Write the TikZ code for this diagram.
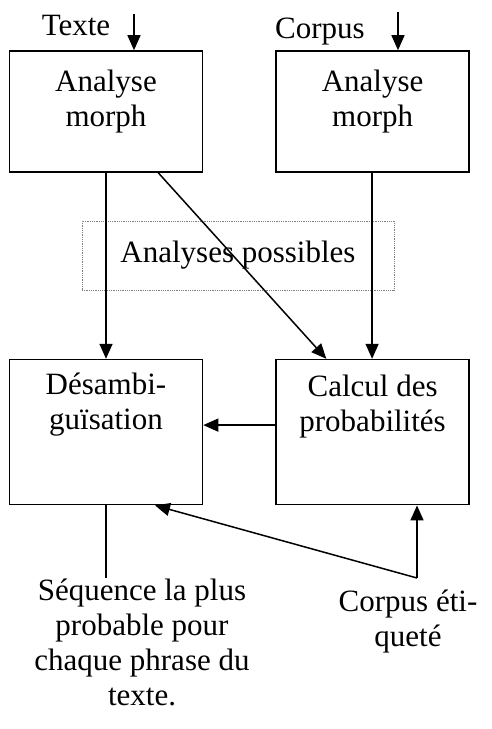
\documentclass[tikz,border=0pt]{standalone}
\usepackage{fontspec}
\setmainfont{Liberation Serif}
\usetikzlibrary{positioning,arrows.meta}

\tikzset{
  boite/.style={draw, line width=1.6pt, minimum width=193pt, inner sep=0pt},
  txt/.style={font=\fontsize{31}{35}\selectfont, align=center, inner sep=0pt},
  fleche/.style={line width=1.5pt, -{Triangle[length=15pt,width=13pt]}},
  trait/.style={line width=1.5pt}
}

\begin{document}
\begin{tikzpicture}[x=1pt,y=-1pt]
  \useasboundingbox (0,0) rectangle (492,729);

  % boites
  \node[boite, minimum height=121pt] (am1) at (106,111.5) {};
  \node[boite, minimum height=121pt, right=72pt of am1] (am2) {};
  \node[boite, minimum height=145pt, below=186pt of am1] (dsb) {};
  \node[boite, minimum height=145pt, right=72pt of dsb] (cal) {};

  \node[txt, below=20pt of am1.north] (am1t) {Analyse\\morph};
  \node[txt, below=20pt of am2.north] (am2t) {Analyse\\morph};
  \node[txt, below=14pt of dsb.north] (dsbt) {Désambi-\\guïsation};
  \node[txt, below=16pt of cal.north] (calt) {Calcul des\\probabilités};

  \node[draw=gray, densely dotted, line width=0.8pt, minimum width=312pt,
        minimum height=69pt, txt] (ap) at (238,255.5) {Analyses possibles};

  % entrees et sorties
  \node[txt, anchor=north] (texte) at (76,15) {Texte};
  \node[txt, anchor=north] (corpus) at (320,18) {Corpus};
  \node[txt, anchor=north] (seq) at (142,579) {Séquence la plus\\probable pour\\chaque phrase du\\texte.};
  \node[txt, anchor=north] (cet) at (408,590) {Corpus éti-\\queté};

  \coordinate (inT) at (134,14);
  \coordinate (inC) at (398,12);
  \coordinate (out) at (106,578);
  \coordinate (ce) at (417,578);

  \draw[fleche] (inT) -- (inT |- am1.north);
  \draw[fleche] (inC) -- (inC |- am2.north);
  \draw[fleche] (am1.south) -- (dsb.north);
  \draw[fleche] ([xshift=-45pt]am1.south east) -- ([xshift=51pt]cal.north west);
  \draw[fleche] ([xshift=-0.5pt]am2.south) -- ([xshift=-0.5pt]cal.north);
  \draw[fleche] ([yshift=7pt]cal.west) -- ([yshift=7pt]dsb.east);
  \draw[trait] (dsb.south) -- (out);
  \draw[fleche] (ce) -- (ce |- cal.south);
  \draw[fleche] (ce) -- ([xshift=49pt]dsb.south);
\end{tikzpicture}
\end{document}
